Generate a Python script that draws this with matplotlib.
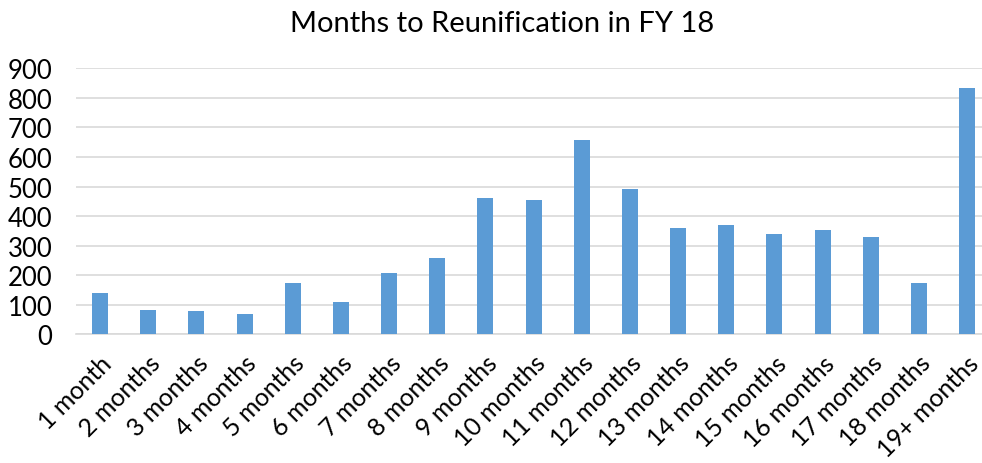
import numpy as np
import matplotlib
matplotlib.use("Agg")
import matplotlib.pyplot as plt

categories = ["1 month", "2 months", "3 months", "4 months", "5 months", "6 months",
              "7 months", "8 months", "9 months", "10 months", "11 months", "12 months",
              "13 months", "14 months", "15 months", "16 months", "17 months",
              "18 months", "19+ months"]
counts = [140, 82, 79, 69, 174, 109, 207, 258, 461, 454, 657, 492,
          360, 370, 339, 353, 329, 174, 833]
yticks = [0, 100, 200, 300, 400, 500, 600, 700, 800, 900]

plt.rcParams['font.family'] = ['Lato', 'DejaVu Sans']

W, H = 982, 464
fig = plt.figure(figsize=(W / 100, H / 100), dpi=100)
# plot area in pixels: left 76, right 982, top 69, bottom 335
ax = fig.add_axes([76 / W, 1 - 335.3 / H, (982 - 76) / W, (335.3 - 69.3) / H])

x = np.arange(len(categories))
ax.bar(x, counts, width=0.33, color="#5b9bd5", zorder=3)

step = (967 - 100) / 18
ax.set_xlim(-0.5, -0.5 + (982 - 76) / step)
ax.set_ylim(0, 900)
ax.set_yticks(yticks)
ax.set_yticklabels([str(t) for t in yticks], fontsize=18.5)
ax.set_xticks(x)
ax.set_xticklabels(categories, rotation=45, ha="right", rotation_mode="anchor", fontsize=18)
ax.tick_params(axis="y", length=0, pad=17)
ax.tick_params(axis="x", length=0, pad=12)
ax.grid(axis="y", color="#d9d9d9", linewidth=1.2, zorder=0)
for s in ["top", "right", "left"]:
    ax.spines[s].set_visible(False)
ax.spines["bottom"].set_color("#d9d9d9")
ax.spines["bottom"].set_linewidth(1.2)

fig.text(502 / W, 1 - 24 / H, "Months to Reunification in FY 18", ha="center", va="center", fontsize=21)

fig.savefig("out.png", dpi=100)
